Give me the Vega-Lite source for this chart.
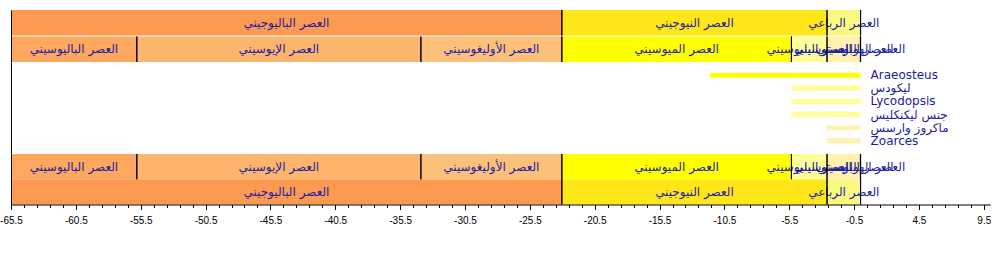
{
  "$schema": "https://vega.github.io/schema/vega-lite/v6.json",
  "padding": {"left": -1, "top": 9, "right": 0, "bottom": 0},
  "background": "white",
  "bounds": "flush",
  "spacing": 0,
  "config": {"view": {"stroke": null}, "font": "DejaVu Sans"},
  "datasets": {
    "units": [
      {"name": "Paleogene", "level": "period", "start": -65.5, "end": -23.03, "label": "العصر الباليوجيني"},
      {"name": "Neogene", "level": "period", "start": -23.03, "end": -2.588, "label": "العصر النيوجيني"},
      {"name": "Quaternary", "level": "period", "start": -2.588, "end": 0, "label": "العصر الرباعي"},
      {"name": "Paleocene", "level": "epoch", "start": -65.5, "end": -55.8, "label": "العصر الباليوسيني"},
      {"name": "Eocene", "level": "epoch", "start": -55.8, "end": -33.9, "label": "العصر الإيوسيني"},
      {"name": "Oligocene", "level": "epoch", "start": -33.9, "end": -23.03, "label": "العصر الأوليغوسيني"},
      {"name": "Miocene", "level": "epoch", "start": -23.03, "end": -5.332, "label": "العصر الميوسيني"},
      {"name": "Pliocene", "level": "epoch", "start": -5.332, "end": -2.588, "label": "العصر البليوسيني"},
      {"name": "Pleistocene", "level": "epoch", "start": -2.588, "end": -0.0117, "label": "العصر البليستوسيني"},
      {"name": "Holocene", "level": "epoch", "start": -0.0117, "end": 0, "label": "العصر الهولوسيني"}
    ],
    "taxa": [
      {"taxon": "Araeosteus", "start": -11.608, "end": 0, "epoch": "Miocene"},
      {"taxon": "ليكودس", "start": -5.332, "end": 0, "epoch": "Pliocene"},
      {"taxon": "Lycodopsis", "start": -5.332, "end": 0, "epoch": "Pliocene"},
      {"taxon": "جنس ليكنكليس", "start": -5.332, "end": 0, "epoch": "Pliocene"},
      {"taxon": "ماكروز وارسس", "start": -2.588, "end": 0, "epoch": "Pleistocene"},
      {"taxon": "Zoarces", "start": -2.588, "end": 0, "epoch": "Pleistocene"}
    ]
  },
  "vconcat": [
    {
      "width": 979.3,
      "height": 52,
      "data": {"name": "units"},
      "transform": [{"calculate": "(datum.start + datum.end) / 2", "as": "mid"}],
      "encoding": {
        "y": {"field": "level", "type": "nominal", "scale": {"domain": ["period", "epoch"], "paddingInner": 0.038, "paddingOuter": 0},
              "axis": {"domain": true, "domainColor": "black", "domainWidth": 1, "ticks": false, "labels": false, "title": null, "grid": false, "zindex": 1}}
      },
      "layer": [
        {"mark": {"type": "bar"},
         "encoding": {
           "x": {"field": "start", "type": "quantitative", "scale": {"domain": [-65.5, 10], "nice": false, "zero": false}, "axis": null},
           "x2": {"field": "end"},
           "color": {"field": "name", "type": "nominal", "legend": null,
                     "scale": {"domain": ["Paleogene", "Neogene", "Quaternary", "Paleocene", "Eocene", "Oligocene", "Miocene", "Pliocene", "Pleistocene", "Holocene"],
                               "range": ["#FD9A52", "#FFE619", "#F9F97F", "#FDA75F", "#FDB46C", "#FDC07A", "#FFFF00", "#FFFF99", "#FFF2AE", "#FEF2E0"]}}
         }},
        {"mark": {"type": "text", "color": "#1c1ca4", "fontSize": 12, "baseline": "middle", "align": "center"},
         "encoding": {
           "x": {"field": "mid", "type": "quantitative", "scale": {"domain": [-65.5, 10], "nice": false, "zero": false}, "axis": null},
           "text": {"field": "label"}
         }},
        {"mark": {"type": "rect", "fill": null, "stroke": "black", "strokeWidth": 1},
         "encoding": {
           "x": {"field": "end", "type": "quantitative", "scale": {"domain": [-65.5, 10], "nice": false, "zero": false}, "axis": null},
           "x2": {"field": "end"}
         }}
      ]
    },
    {
      "width": 979.3,
      "height": 92,
      "data": {"name": "taxa"},
      "encoding": {
        "y": {"field": "taxon", "type": "nominal", "sort": null, "scale": {"type": "point", "padding": 1.04},
              "axis": {"domain": true, "domainColor": "black", "domainWidth": 1, "ticks": false, "labels": false, "title": null, "grid": false, "zindex": 1}}
      },
      "layer": [
        {"mark": {"type": "rule", "strokeWidth": 5},
         "encoding": {
           "x": {"field": "start", "type": "quantitative", "scale": {"domain": [-65.5, 10], "nice": false, "zero": false}, "axis": null},
           "x2": {"field": "end"},
           "color": {"field": "epoch", "type": "nominal", "legend": null,
                     "scale": {"domain": ["Miocene", "Pliocene", "Pleistocene"], "range": ["#FFFF00", "#F0F0AA", "#FCEAB0"]}}
         }},
        {"mark": {"type": "text", "color": "#1c1ca4", "fontSize": 12, "baseline": "middle", "align": "left", "dx": 10},
         "encoding": {
           "x": {"field": "end", "type": "quantitative", "scale": {"domain": [-65.5, 10], "nice": false, "zero": false}, "axis": null},
           "text": {"field": "taxon"}
         }}
      ]
    },
    {
      "width": 979.3,
      "height": 50.5,
      "data": {"name": "units"},
      "transform": [{"calculate": "(datum.start + datum.end) / 2", "as": "mid"}],
      "resolve": {"axis": {"x": "independent"}},
      "encoding": {
        "y": {"field": "level", "type": "nominal", "scale": {"domain": ["epoch", "period"], "paddingInner": 0, "paddingOuter": 0},
              "axis": {"domain": true, "domainColor": "black", "domainWidth": 1, "ticks": false, "labels": false, "title": null, "grid": false, "zindex": 1}}
      },
      "layer": [
        {"mark": {"type": "bar"},
         "encoding": {
           "x": {"field": "start", "type": "quantitative", "scale": {"domain": [-65.5, 10], "nice": false, "zero": false},
                 "axis": {
                   "orient": "bottom",
                   "values": [-65.5, -60.5, -55.5, -50.5, -45.5, -40.5, -35.5, -30.5, -25.5, -20.5, -15.5, -10.5, -5.5, -0.5, 4.5, 9.5],
                   "labelExpr": "datum.value + ''",
                   "tickSize": 5,
                   "labelFont": "Liberation Sans", "labelFontSize": 10, "labelColor": "black", "labelPadding": 6,
                   "labelOverlap": false, "labelFlush": false, "labelBound": false,
                   "domainColor": "black", "domainWidth": 1, "tickColor": "black", "tickWidth": 1,
                   "grid": false, "title": null, "zindex": 1
                 }},
           "x2": {"field": "end"},
           "color": {"field": "name", "type": "nominal", "legend": null,
                     "scale": {"domain": ["Paleogene", "Neogene", "Quaternary", "Paleocene", "Eocene", "Oligocene", "Miocene", "Pliocene", "Pleistocene", "Holocene"],
                               "range": ["#FD9A52", "#FFE619", "#F9F97F", "#FDA75F", "#FDB46C", "#FDC07A", "#FFFF00", "#FFFF99", "#FFF2AE", "#FEF2E0"]}}
         }},
        {"mark": {"type": "text", "color": "#1c1ca4", "fontSize": 12, "baseline": "middle", "align": "center"},
         "encoding": {
           "x": {"field": "mid", "type": "quantitative", "scale": {"domain": [-65.5, 10], "nice": false, "zero": false}, "axis": null},
           "text": {"field": "label"}
         }},
        {"mark": {"type": "rect", "fill": null, "stroke": "black", "strokeWidth": 1},
         "encoding": {
           "x": {"field": "end", "type": "quantitative", "scale": {"domain": [-65.5, 10], "nice": false, "zero": false},
                 "axis": {
                   "orient": "bottom",
                   "values": [-64.5, -63.5, -62.5, -61.5, -59.5, -58.5, -57.5, -56.5, -54.5, -53.5, -52.5, -51.5, -49.5, -48.5, -47.5, -46.5, -44.5, -43.5, -42.5, -41.5, -39.5, -38.5, -37.5, -36.5, -34.5, -33.5, -32.5, -31.5, -29.5, -28.5, -27.5, -26.5, -24.5, -23.5, -22.5, -21.5, -19.5, -18.5, -17.5, -16.5, -14.5, -13.5, -12.5, -11.5, -9.5, -8.5, -7.5, -6.5, -4.5, -3.5, -2.5, -1.5, 0.5, 1.5, 2.5, 3.5, 5.5, 6.5, 7.5, 8.5],
                   "labels": false, "tickSize": 3, "domain": false,
                   "tickColor": "black", "tickWidth": 1, "grid": false, "title": null, "zindex": 1
                 }},
           "x2": {"field": "end"}
         }}
      ]
    }
  ]
}
